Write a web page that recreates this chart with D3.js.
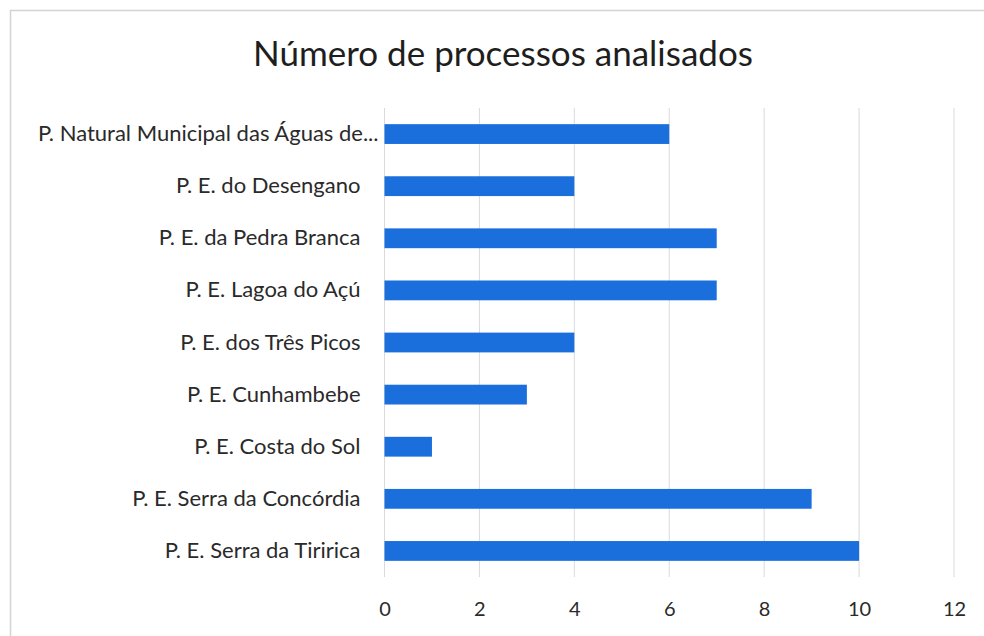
<!DOCTYPE html>
<html>
<head>
<meta charset="utf-8">
<script src="https://cdn.jsdelivr.net/npm/d3@7"></script>
<style>
  body { margin: 0; background: #fff; }
  svg { display: block; }
</style>
</head>
<body>
<svg id="chart"></svg>
<script>
// Chart data
var title = "Número de processos analisados";
var categories = [
  "P. Natural Municipal das Águas de...",
  "P. E. do Desengano",
  "P. E. da Pedra Branca",
  "P. E. Lagoa do Açú",
  "P. E. dos Três Picos",
  "P. E. Cunhambebe",
  "P. E. Costa do Sol",
  "P. E. Serra da Concórdia",
  "P. E. Serra da Tiririca"
];
var values = [6, 4, 7, 7, 4, 3, 1, 9, 10];
var xTicks = [0, 2, 4, 6, 8, 10, 12];

// Plotting parameters
var W = 984, H = 636;
var margin = { top: 108, right: 30, bottom: 59, left: 384.5 };
var width = 954 - margin.left;
var height = H - margin.top - margin.bottom;
var font = "Lato, 'Open Sans', sans-serif";

var svg = d3.select("#chart")
  .attr("width", W)
  .attr("height", H);

// Outer chart border (scanned frame)
svg.append("rect")
  .attr("x", 10.5).attr("y", 10.5)
  .attr("width", W + 20).attr("height", H + 20)
  .attr("fill", "#fff")
  .attr("stroke", "#d4d4d4")
  .attr("stroke-width", 1.5);

svg.append("text")
  .attr("x", 503)
  .attr("y", 66)
  .attr("text-anchor", "middle")
  .attr("font-family", font)
  .attr("font-size", 35)
  .attr("fill", "#1e1e1e")
  .text(title);

var g = svg.append("g")
  .attr("transform", "translate(" + margin.left + "," + margin.top + ")");

// Scales
var x = d3.scaleLinear()
  .domain([0, 12])
  .range([0, width]);

var y = d3.scaleBand()
  .domain(categories)
  .range([0, height])
  .paddingInner(0.62)
  .paddingOuter(0.31);

// Vertical gridlines
g.selectAll(".grid")
  .data(xTicks)
  .enter().append("line")
  .attr("class", "grid")
  .attr("x1", function(d) { return x(d); })
  .attr("x2", function(d) { return x(d); })
  .attr("y1", 0)
  .attr("y2", height)
  .attr("stroke", "#dadada")
  .attr("stroke-width", 1);

// Bars
g.selectAll(".bar")
  .data(values)
  .enter().append("rect")
  .attr("class", "bar")
  .attr("x", x(0))
  .attr("y", function(d, i) { return y(categories[i]); })
  .attr("width", function(d) { return x(d) - x(0); })
  .attr("height", y.bandwidth())
  .attr("fill", "#1a6fdd");

// X axis
var xAxis = g.append("g")
  .attr("transform", "translate(0," + height + ")")
  .call(d3.axisBottom(x).tickValues(xTicks).tickSize(0).tickPadding(25));
xAxis.select(".domain").remove();
xAxis.selectAll("text")
  .attr("font-family", font)
  .attr("font-size", 20)
  .attr("fill", "#2a2a2a");

// Y axis (category labels)
var yAxis = g.append("g")
  .call(d3.axisLeft(y).tickSize(0).tickPadding(24));
yAxis.select(".domain").remove();
yAxis.selectAll("text")
  .attr("font-family", font)
  .attr("font-size", 22)
  .attr("fill", "#2a2a2a")
  .attr("dx", function(d) { return d.slice(-3) === "..." ? 18 : 0; });
</script>
</body>
</html>
